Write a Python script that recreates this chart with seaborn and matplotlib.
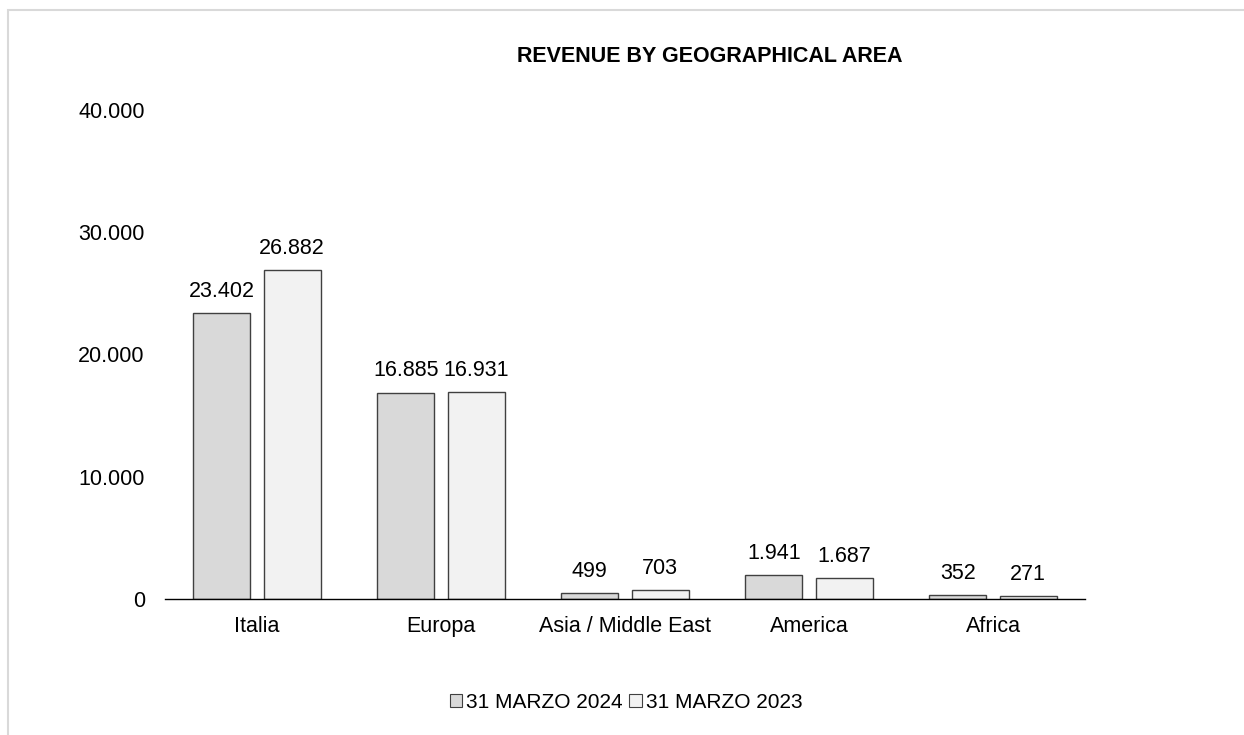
import matplotlib
matplotlib.use("Agg")
import matplotlib.pyplot as plt
import seaborn as sns
import pandas as pd
from matplotlib.patches import Rectangle, Patch
from matplotlib.ticker import FuncFormatter

categories = ["Italia", "Europa", "Asia / Middle East", "America", "Africa"]
series_names = ["31 MARZO 2024", "31 MARZO 2023"]
values_2024 = [23402, 16885, 499, 1941, 352]
values_2023 = [26882, 16931, 703, 1687, 271]
yticks = [0, 10000, 20000, 30000, 40000]

df = pd.DataFrame({
    "area": categories * 2,
    "serie": [series_names[0]] * 5 + [series_names[1]] * 5,
    "value": values_2024 + values_2023,
})

sns.set_theme(style="white")
plt.rcParams["font.family"] = ["Liberation Sans", "DejaVu Sans"]

W, H = 1244, 735
fig = plt.figure(figsize=(W / 100, H / 100), dpi=100)
ax = fig.add_axes([165 / W, (H - 599) / H, (1085 - 165) / W, (599 - 110) / H])

colors = ["#d9d9d9", "#f2f2f2"]
sns.barplot(data=df, x="area", y="value", hue="serie", palette=colors,
            width=0.766, gap=0.19, edgecolor="#404040", linewidth=1.0,
            ax=ax, legend=False)

fmt = lambda v: f"{int(v):,}".replace(",", ".")
for cont in ax.containers:
    ax.bar_label(cont, labels=[fmt(b.get_height()) for b in cont],
                 padding=8, fontsize=15.5, color="#000000")

ax.set_ylim(0, 40000)
ax.set_xlim(-0.5, 4.5)
ax.set_yticks(yticks)
ax.yaxis.set_major_formatter(FuncFormatter(lambda v, p: fmt(v)))
ax.tick_params(axis="y", length=0, labelsize=15.5, pad=14.5, colors="#000000")
ax.tick_params(axis="x", length=0, labelsize=15.5, pad=12.5, colors="#000000")
ax.set_xlabel("")
ax.set_ylabel("")
for s in ["top", "right", "left"]:
    ax.spines[s].set_visible(False)
ax.spines["bottom"].set_color("#000000")
ax.spines["bottom"].set_linewidth(1.0)
ax.grid(False)

fig.text(710 / W, 1 - 57 / H, "REVENUE BY GEOGRAPHICAL AREA", ha="center",
         va="center", fontsize=15.5, fontweight="bold", color="#000000")

handles = [Patch(facecolor=c, edgecolor="#404040", linewidth=0.8) for c in colors]
fig.legend(handles, series_names, loc="center", bbox_to_anchor=(626 / W, 1 - 702 / H),
           ncol=2, frameon=False, fontsize=15, handlelength=0.6, handleheight=0.6,
           handletextpad=0.2, columnspacing=0.3, labelcolor="#000000")

fig.patches.append(Rectangle((8 / W, -0.05), 1.0, 1.05 - 10 / H, transform=fig.transFigure,
                             fill=False, edgecolor="#d9d9d9", linewidth=1.5))

fig.savefig("out.png", dpi=100)
